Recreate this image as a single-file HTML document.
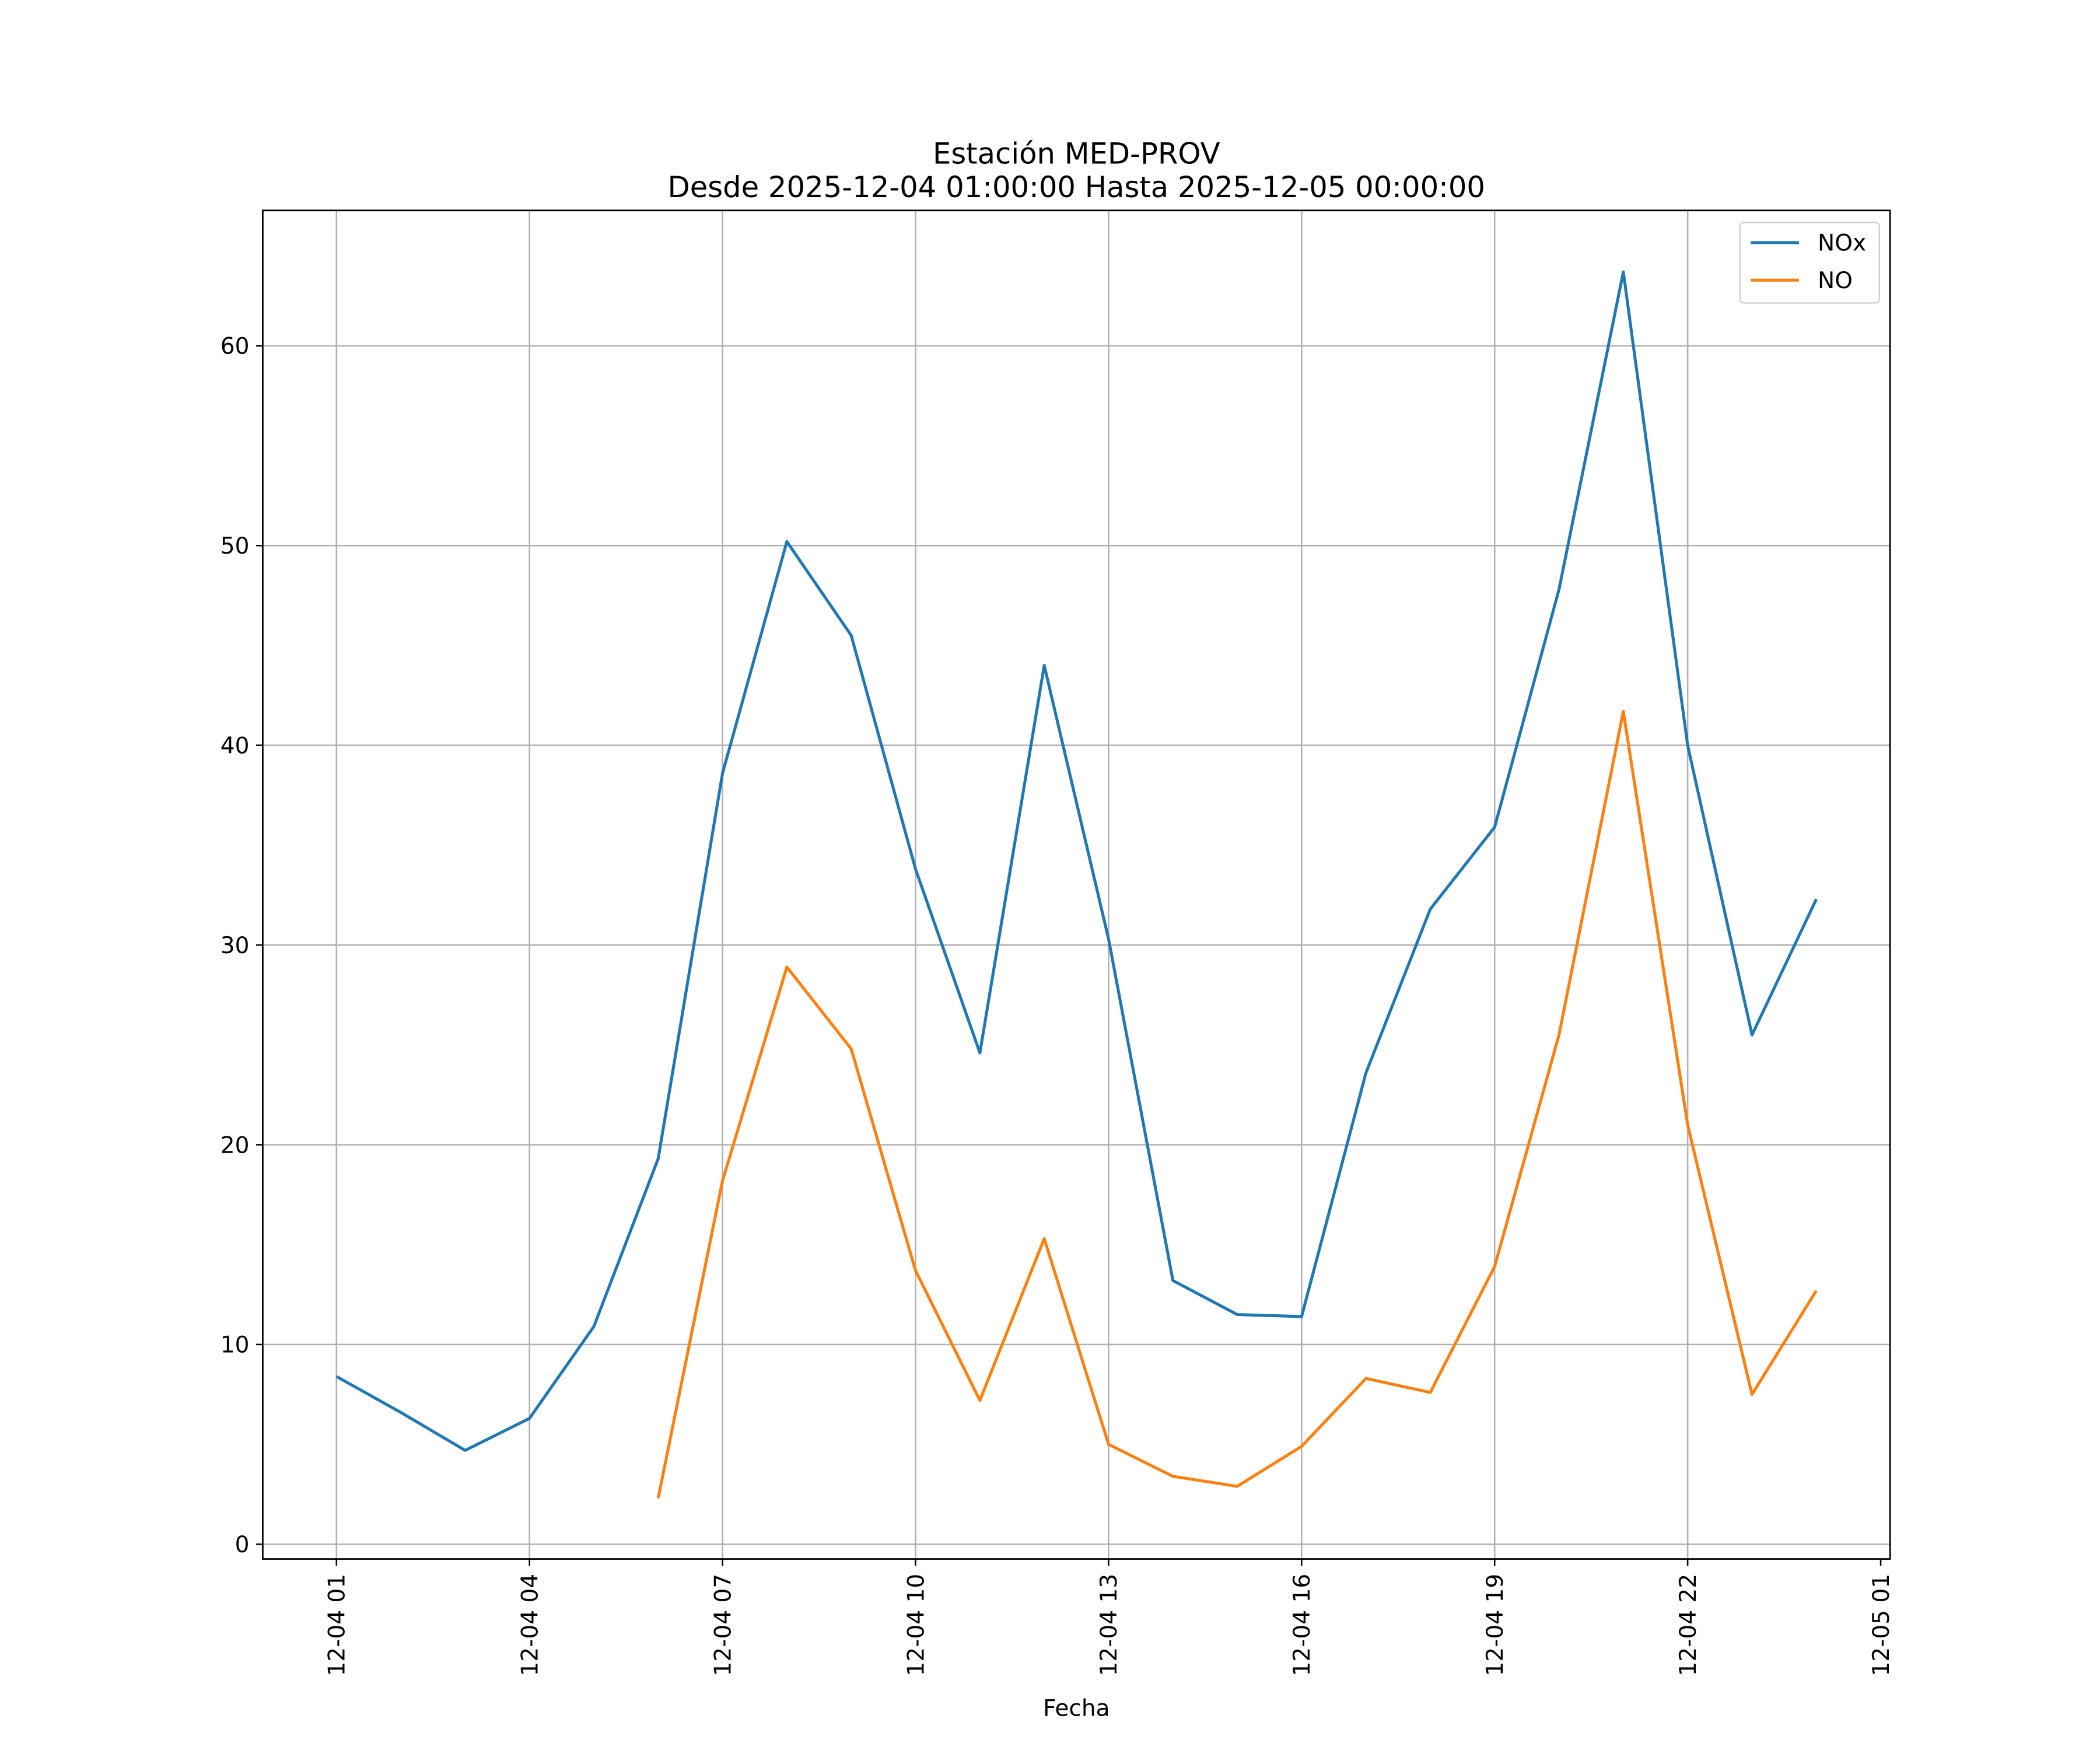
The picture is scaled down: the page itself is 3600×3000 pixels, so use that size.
<!DOCTYPE html>
<html><head><meta charset="utf-8">
<style>
html,body{margin:0;padding:0;background:#fff;}
svg{display:block;}
text{font-family:"DejaVu Sans","Liberation Sans",sans-serif;fill:#000;}
</style></head>
<body>
<svg id="chart" width="3600" height="3000" viewBox="0 0 1566.6 1305.5" xmlns="http://www.w3.org/2000/svg">
<rect x="0" y="0" width="1566.6" height="1305.5" fill="#fff"/>
<text x="803" y="122" text-anchor="middle" font-size="21.6">Estación MED-PROV</text>
<text x="803" y="147" text-anchor="middle" font-size="21.6">Desde 2025-12-04 01:00:00 Hasta 2025-12-05 00:00:00</text>
<g id="grid"></g>
<g id="series"></g>
<rect x="196" y="157" width="1214" height="1006" fill="none" stroke="#000" stroke-width="1.2"/>
<g id="ticks"></g>
<text x="803" y="1280" text-anchor="middle" font-size="17">Fecha</text>
<g>
<rect x="1298" y="166" width="104" height="60" rx="3" fill="#fff" stroke="#ccc" stroke-width="1"/>
<line x1="1306" y1="181" x2="1342" y2="181" stroke="#1f77b4" stroke-width="2.2"/>
<text x="1356" y="187" font-size="17">NOx</text>
<line x1="1306" y1="209" x2="1342" y2="209" stroke="#ff7f0e" stroke-width="2.2"/>
<text x="1356" y="215" font-size="17">NO</text>
</g>
</svg>
<script>
const hours = [1,2,3,4,5,6,7,8,9,10,11,12,13,14,15,16,17,18,19,20,21,22,23,24];
const noxValues = [8.4,6.6,4.7,6.3,10.9,19.3,38.6,50.2,45.5,33.8,24.6,44.0,30.3,13.2,11.5,11.4,23.6,31.8,35.9,47.8,63.7,40.0,25.5,32.3];
const noValues = [null,null,null,null,null,2.3,18.2,28.9,24.8,13.7,7.2,15.3,5.0,3.4,2.9,4.9,8.3,7.6,13.9,25.5,41.7,21.0,7.5,12.7];
const yTicks = [0,10,20,30,40,50,60];
const xTickHours = [1,4,7,10,13,16,19,22,25];
const xTickLabels = ["12-04 01","12-04 04","12-04 07","12-04 10","12-04 13","12-04 16","12-04 19","12-04 22","12-05 01"];

const NS="http://www.w3.org/2000/svg";
function xScale(h){return 251+(h-1)*48;}
function yScale(v){return 1152-v*14.9;}
function mk(tag,attrs,parent){const e=document.createElementNS(NS,tag);for(const k in attrs)e.setAttribute(k,attrs[k]);parent.appendChild(e);return e;}
const grid=document.getElementById('grid'),ticks=document.getElementById('ticks'),series=document.getElementById('series');

yTicks.forEach(v=>{
  const y=yScale(v);
  const g=mk('line',{x1:196,x2:1410,y1:y,y2:y,stroke:'#b0b0b0','stroke-width':1.1},grid);
  
  
  mk('line',{x1:191,x2:196,y1:y,y2:y,stroke:'#000','stroke-width':1.1},ticks);
  const t=mk('text',{x:186,y:y+6,'text-anchor':'end','font-size':17},ticks);
  t.textContent=v;
  
  
});
xTickHours.forEach((h,i)=>{
  const x=xScale(h);
  if(h<25){
    const g=mk('line',{x1:x,x2:x,y1:157,y2:1163,stroke:'#b0b0b0','stroke-width':1.1},grid);
    
    
  }
  mk('line',{x1:x,x2:x,y1:1163,y2:1168,stroke:'#000','stroke-width':1.1},ticks);
  const t=mk('text',{x:0,y:0,'text-anchor':'end','font-size':17,transform:`translate(${x+6},1174) rotate(-90)`},ticks);
  t.textContent=xTickLabels[i];
  
  
});
function drawLine(vals,color,name){
  let d='',pen=false;
  vals.forEach((v,i)=>{
    if(v===null){pen=false;return;}
    d+=(pen?'L':'M')+xScale(hours[i])+' '+yScale(v)+' ';pen=true;
  });
  const p=mk('path',{d:d,fill:'none',stroke:color,'stroke-width':2.2,'stroke-linejoin':'round'},series);
  
  
}
drawLine(noxValues,'#1f77b4','nox-line');
drawLine(noValues,'#ff7f0e','no-line');
</script>
</body></html>
